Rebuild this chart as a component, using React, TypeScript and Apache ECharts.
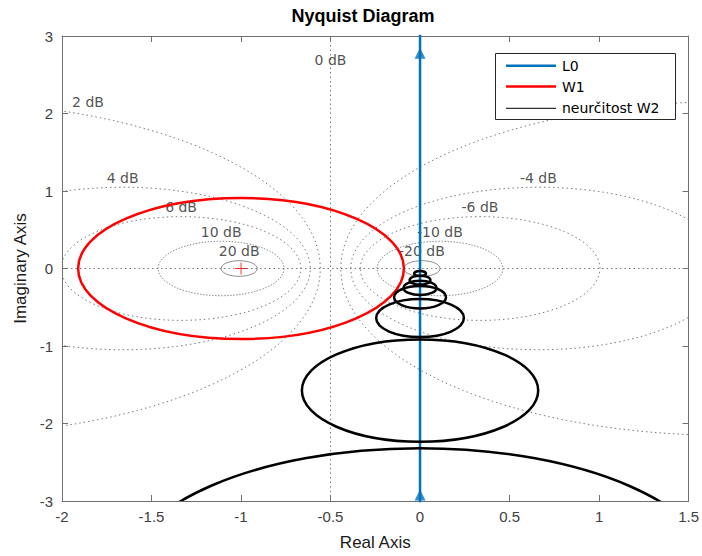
import React, { useEffect, useRef } from "react";
import * as echarts from "echarts";

// Axis ranges and tick spacing
const realMin = -2;
const realMax = 1.5;
const realStep = 0.5;
const imagMin = -3;
const imagMax = 3;
const imagStep = 1;

// Constant-magnitude (M) circle levels in dB
const mCircleDb = [-20, -10, -6, -4, -2, 2, 4, 6, 10, 20];

// Grid labels and their anchor points (real, imaginary)
const dbLabelText = ["0 dB", "2 dB", "4 dB", "6 dB", "10 dB", "20 dB", "-4 dB", "-6 dB", "-10 dB", "-20 dB"];
const dbLabelRe = [-0.5, -1.855, -1.661, -1.335, -1.111, -1.01, 0.661, 0.335, 0.111, 0.0101];
const dbLabelIm = [2.57, 2.03, 1.048, 0.669, 0.351, 0.101, 1.048, 0.669, 0.351, 0.101];

// L0: locus along the imaginary axis, with direction arrows
const l0Re = [0, 0];
const l0Im = [-3.2, 3.2];
const l0ArrowIm = [2.85, -2.85];

// W1: performance disc around the critical point
const w1CenterRe = [-1];
const w1CenterIm = [0];
const w1Radius = [0.91];

// W2: uncertainty discs around points of L0
const w2CenterRe = [0, 0, 0, 0, 0, 0, 0];
const w2CenterIm = [-0.065, -0.15, -0.25, -0.37, -0.64, -1.575, -3.97];
const w2Radius = [0.033, 0.058, 0.092, 0.145, 0.245, 0.66, 1.65];

// Critical point
const criticalPoint = [-1, 0];

const AXIS_FONT = "'Liberation Sans', Arial, sans-serif";
const TEXT_FONT = "'DejaVu Sans', sans-serif";
const AXIS_COLOR = "#707070";
const GRID_COLOR = "#7a7a7a";

function mCircle(db: number): [number, number, number] {
  const m = Math.pow(10, db / 20);
  const m2 = m * m;
  return [-m2 / (m2 - 1), 0, Math.abs(m / (m2 - 1))];
}

function ringRenderer(styleFor: (i: number) => Record<string, unknown>) {
  return (params: any, api: any) => {
    const c = api.coord([api.value(0), api.value(1)]);
    const s = api.size([api.value(2), api.value(2)]);
    return {
      type: "ellipse",
      shape: { cx: c[0], cy: c[1], rx: s[0], ry: s[1] },
      style: { fill: "none", ...styleFor(params.dataIndex) },
    };
  };
}

export default function App() {
  const ref = useRef<HTMLDivElement>(null);

  useEffect(() => {
    document.body.style.margin = "0";
    if (!ref.current) return;
    const chart = echarts.init(ref.current, undefined, { renderer: "svg" });

    const mData = mCircleDb.map(mCircle);
    const w1Data = w1CenterRe.map((re, i) => [re, w1CenterIm[i], w1Radius[i]]);
    const w2Data = w2CenterRe.map((re, i) => [re, w2CenterIm[i], w2Radius[i]]);
    const labelData = dbLabelText.map((t, i) => ({ name: t, value: [dbLabelRe[i], dbLabelIm[i]] }));

    const hiddenAxisBits = {
      axisLabel: { show: false },
      splitLine: { show: false },
    };

    const legendRows = [
      { label: "L0", color: "#0072BD", width: 2.5 },
      { label: "W1", color: "#FF0000", width: 2.5 },
      { label: "neurčitost W2", color: "#000000", width: 1 },
    ];
    const legendTop = 53.5;
    const legendLeft = 495.5;
    const legendRowY = [65.7, 86.5, 108.3];

    chart.setOption({
      animation: false,
      backgroundColor: "#ffffff",
      grid: { left: 62, top: 36, width: 628, height: 470 },
      xAxis: [
        {
          type: "value",
          min: realMin,
          max: realMax,
          interval: realStep,
          position: "bottom",
          axisLine: { show: true, onZero: false, lineStyle: { color: AXIS_COLOR, width: 1 } },
          axisTick: { show: true, inside: true, length: 6, lineStyle: { color: AXIS_COLOR } },
          axisLabel: { color: "#404040", fontSize: 15, fontFamily: AXIS_FONT, margin: 8 },
          splitLine: { show: false },
          name: "Real Axis",
          nameLocation: "middle",
          nameGap: 33,
          nameTextStyle: { color: "#1a1a1a", fontSize: 17, fontFamily: AXIS_FONT },
        },
        {
          type: "value",
          min: realMin,
          max: realMax,
          interval: realStep,
          position: "top",
          axisLine: { show: true, onZero: false, lineStyle: { color: AXIS_COLOR, width: 1 } },
          axisTick: { show: true, inside: true, length: 6, lineStyle: { color: AXIS_COLOR } },
          ...hiddenAxisBits,
        },
      ],
      yAxis: [
        {
          type: "value",
          min: imagMin,
          max: imagMax,
          interval: imagStep,
          position: "left",
          axisLine: { show: true, onZero: false, lineStyle: { color: AXIS_COLOR, width: 1 } },
          axisTick: { show: true, inside: true, length: 6, lineStyle: { color: AXIS_COLOR } },
          axisLabel: { color: "#404040", fontSize: 15, fontFamily: AXIS_FONT, margin: 9 },
          splitLine: { show: false },
          name: "Imaginary Axis",
          nameLocation: "middle",
          nameGap: 33,
          nameTextStyle: { color: "#1a1a1a", fontSize: 17, fontFamily: AXIS_FONT },
        },
        {
          type: "value",
          min: imagMin,
          max: imagMax,
          interval: imagStep,
          position: "right",
          axisLine: { show: true, onZero: false, lineStyle: { color: AXIS_COLOR, width: 1 } },
          axisTick: { show: true, inside: true, length: 6, lineStyle: { color: AXIS_COLOR } },
          ...hiddenAxisBits,
        },
      ],
      series: [
        {
          name: "real axis",
          type: "line",
          z: 1,
          data: [[realMin, 0], [realMax, 0]],
          symbol: "none",
          lineStyle: { color: GRID_COLOR, width: 1, type: [1.5, 3] },
          silent: true,
        },
        {
          name: "0 dB",
          type: "line",
          z: 1,
          data: [[-0.5, imagMin], [-0.5, imagMax]],
          symbol: "none",
          lineStyle: { color: GRID_COLOR, width: 1, type: [1.5, 3] },
          silent: true,
        },
        {
          name: "M circles",
          type: "custom",
          z: 1,
          clip: true,
          silent: true,
          encode: { x: 0, y: 1 },
          data: mData,
          renderItem: ringRenderer((i) => {
            const db = Math.abs(mCircleDb[i]);
            if (db >= 20) return { stroke: "#808080", lineWidth: 0.9 };
            if (db >= 10) return { stroke: "#808080", lineWidth: 0.9, lineDash: [1.5, 1.5] };
            return { stroke: GRID_COLOR, lineWidth: 1, lineDash: [1.5, 3] };
          }),
        },
        {
          name: "dB labels",
          type: "scatter",
          z: 1,
          silent: true,
          symbolSize: 1,
          itemStyle: { color: "rgba(0,0,0,0)" },
          data: labelData,
          label: {
            show: true,
            position: "top",
            distance: 2,
            formatter: "{b}",
            color: "#262626",
            fontSize: 14,
            fontFamily: TEXT_FONT,
          },
        },
        {
          name: "critical point",
          type: "scatter",
          z: 2,
          silent: true,
          symbol: "path://M5.5,0h1v12h-1zM0,5.5h12v1h-12z",
          symbolSize: 12,
          itemStyle: { color: "#ff0000" },
          data: [criticalPoint],
        },
        {
          name: "L0",
          type: "line",
          z: 3,
          symbol: "none",
          data: l0Re.map((re, i) => [re, l0Im[i]]),
          lineStyle: { color: "#0072BD", width: 2.5 },
        },
        {
          name: "L0 arrows",
          type: "scatter",
          z: 3,
          symbol: "triangle",
          symbolSize: [11, 11],
          symbolOffset: [0, 5.5],
          itemStyle: { color: "#0072BD" },
          data: l0ArrowIm.map((im) => [0, im]),
        },
        {
          name: "W1",
          type: "custom",
          z: 4,
          clip: true,
          encode: { x: 0, y: 1 },
          data: w1Data,
          renderItem: ringRenderer(() => ({ stroke: "#FF0000", lineWidth: 2.5 })),
        },
        {
          name: "neurčitost W2",
          type: "custom",
          z: 5,
          clip: true,
          encode: { x: 0, y: 1 },
          data: w2Data,
          renderItem: ringRenderer(() => ({ stroke: "#000000", lineWidth: 2.5 })),
        },
      ],
      graphic: [
        {
          type: "text",
          x: 363,
          y: 16,
          z: 100,
          style: {
            text: "Nyquist Diagram",
            align: "center",
            verticalAlign: "middle",
            font: `bold 18px ${AXIS_FONT}`,
            fill: "#000",
          },
        },
        {
          type: "rect",
          z: 100,
          shape: { x: legendLeft, y: legendTop, width: 180, height: 66 },
          style: { fill: "#ffffff", stroke: "#262626", lineWidth: 1 },
        },
        ...legendRows.flatMap((row, i) => [
          {
            type: "line",
            z: 101,
            shape: { x1: 506, y1: legendRowY[i], x2: 556, y2: legendRowY[i] },
            style: { stroke: row.color, lineWidth: row.width },
          },
          {
            type: "text",
            z: 101,
            x: 562,
            y: legendRowY[i],
            style: {
              text: row.label,
              align: "left",
              verticalAlign: "middle",
              font: `14px ${TEXT_FONT}`,
              fill: "#000",
            },
          },
        ]),
      ],
    });

    return () => chart.dispose();
  }, []);

  return <div ref={ref} style={{ width: 702, height: 556 }} />;
}
